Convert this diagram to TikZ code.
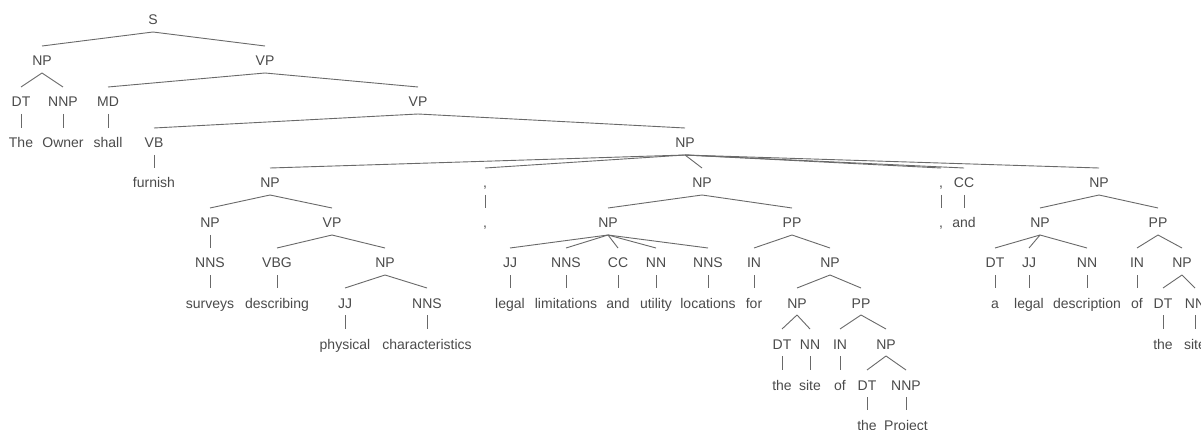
\documentclass[tikz,border=0pt]{standalone}
\usepackage{fontspec}
\setmainfont{Liberation Sans}
\usetikzlibrary{calc}
\definecolor{txt}{RGB}{75,75,75}
\definecolor{ln}{RGB}{105,105,105}
\tikzset{
  lab/.style={anchor=base,inner sep=0pt,text=txt,font=\fontsize{14}{16}\selectfont},
  br/.style={draw=ln,line width=0.9pt}
}
\newcommand\tedge[2]{\draw[br] ($(#1.base)+(0,7)$) -- ($(#2.base)+(0,-20)$);}
\begin{document}
\begin{tikzpicture}[x=1pt,y=-1pt]
\useasboundingbox[fill=white] (0,0) rectangle (1201,430);
\clip (0,0) rectangle (1201,430);
% L0
\node[lab] (S) at (153,25) {S};
% L1
\node[lab] (NP1) at (42,66) {NP};
\node[lab] (VP1) at (265,66) {VP};
% L2
\node[lab] (DT1) at (21,107) {DT};
\node[lab] (NNP1) at (63,107) {NNP};
\node[lab] (MD) at (108,107) {MD};
\node[lab] (VP2) at (418,107) {VP};
% L3
\node[lab] (wThe) at (21,148) {The};
\node[lab] (wOwner) at (63,148) {Owner};
\node[lab] (wshall) at (108,148) {shall};
\node[lab] (VB) at (154,148) {VB};
\node[lab] (NP2) at (685,148) {NP};
% L4
\node[lab] (wfurnish) at (154,188) {furnish};
\node[lab] (NPa) at (270,188) {NP};
\node[lab] (c1) at (485,188) {,};
\node[lab] (NPb) at (702,188) {NP};
\node[lab] (c2) at (941,188) {,};
\node[lab] (CC1) at (964,188) {CC};
\node[lab] (NPc) at (1099,188) {NP};
% L5
\node[lab] (NPa1) at (210,228) {NP};
\node[lab] (VPa) at (332,228) {VP};
\node[lab] (wc1) at (485,228) {,};
\node[lab] (NPb1) at (608,228) {NP};
\node[lab] (PPb) at (792,228) {PP};
\node[lab] (wc2) at (941,228) {,};
\node[lab] (wand1) at (964,228) {and};
\node[lab] (NPc1) at (1040,228) {NP};
\node[lab] (PPc) at (1158,228) {PP};
% L6
\node[lab] (NNSa) at (210,268) {NNS};
\node[lab] (VBG) at (277,268) {VBG};
\node[lab] (NPa2) at (385,268) {NP};
\node[lab] (JJb) at (510,268) {JJ};
\node[lab] (NNSb) at (566,268) {NNS};
\node[lab] (CCb) at (618,268) {CC};
\node[lab] (NNb) at (656,268) {NN};
\node[lab] (NNSb2) at (708,268) {NNS};
\node[lab] (INb) at (754,268) {IN};
\node[lab] (NPb2) at (830,268) {NP};
\node[lab] (DTc) at (995,268) {DT};
\node[lab] (JJc) at (1029,268) {JJ};
\node[lab] (NNc) at (1087,268) {NN};
\node[lab] (INc) at (1137,268) {IN};
\node[lab] (NPc2) at (1182,268) {NP};
% L7
\node[lab] (wsurveys) at (210,308) {surveys};
\node[lab] (wdescribing) at (277,308) {describing};
\node[lab] (JJa) at (345,308) {JJ};
\node[lab] (NNSa2) at (427,308) {NNS};
\node[lab] (wlegal) at (510,308) {legal};
\node[lab] (wlimitations) at (566,308) {limitations};
\node[lab] (wand2) at (618,308) {and};
\node[lab] (wutility) at (656,308) {utility};
\node[lab] (wlocations) at (708,308) {locations};
\node[lab] (wfor) at (754,308) {for};
\node[lab] (NPb3) at (797,308) {NP};
\node[lab] (PPb2) at (861,308) {PP};
\node[lab] (wa) at (995,308) {a};
\node[lab] (wlegal2) at (1029,308) {legal};
\node[lab] (wdescription) at (1087,308) {description};
\node[lab] (wof) at (1137,308) {of};
\node[lab] (DTc2) at (1163,308) {DT};
\node[lab] (NNc2) at (1195,308) {NN};
% L8
\node[lab] (wphysical) at (345,349) {physical};
\node[lab] (wcharacteristics) at (427,349) {characteristics};
\node[lab] (DTb) at (782,349) {DT};
\node[lab] (NNb2) at (810,349) {NN};
\node[lab] (INb2) at (840,349) {IN};
\node[lab] (NPb4) at (886,349) {NP};
\node[lab] (wthe1) at (1163,349) {the};
\node[lab] (wsite1) at (1195,349) {site};
% L9
\node[lab] (wthe2) at (782,390) {the};
\node[lab] (wsite2) at (810,390) {site};
\node[lab] (wof2) at (840,390) {of};
\node[lab] (DTb2) at (867,390) {DT};
\node[lab] (NNPb) at (906,390) {NNP};
% L10
\node[lab] (wthe3) at (867,430) {the};
\node[lab] (wProject) at (906,430) {Project};
% edges
\tedge{S}{NP1}\tedge{S}{VP1}
\tedge{NP1}{DT1}\tedge{NP1}{NNP1}
\tedge{VP1}{MD}\tedge{VP1}{VP2}
\tedge{DT1}{wThe}\tedge{NNP1}{wOwner}\tedge{MD}{wshall}
\tedge{VP2}{VB}\tedge{VP2}{NP2}
\tedge{VB}{wfurnish}
\tedge{NP2}{NPa}\tedge{NP2}{c1}\tedge{NP2}{NPb}\tedge{NP2}{c2}\tedge{NP2}{CC1}\tedge{NP2}{NPc}
\tedge{NPa}{NPa1}\tedge{NPa}{VPa}
\tedge{c1}{wc1}
\tedge{NPb}{NPb1}\tedge{NPb}{PPb}
\tedge{c2}{wc2}\tedge{CC1}{wand1}
\tedge{NPc}{NPc1}\tedge{NPc}{PPc}
\tedge{NPa1}{NNSa}
\tedge{VPa}{VBG}\tedge{VPa}{NPa2}
\tedge{NPb1}{JJb}\tedge{NPb1}{NNSb}\tedge{NPb1}{CCb}\tedge{NPb1}{NNb}\tedge{NPb1}{NNSb2}
\tedge{PPb}{INb}\tedge{PPb}{NPb2}
\tedge{NPc1}{DTc}\tedge{NPc1}{JJc}\tedge{NPc1}{NNc}
\tedge{PPc}{INc}\tedge{PPc}{NPc2}
\tedge{NNSa}{wsurveys}\tedge{VBG}{wdescribing}
\tedge{NPa2}{JJa}\tedge{NPa2}{NNSa2}
\tedge{JJb}{wlegal}\tedge{NNSb}{wlimitations}\tedge{CCb}{wand2}\tedge{NNb}{wutility}\tedge{NNSb2}{wlocations}
\tedge{INb}{wfor}
\tedge{NPb2}{NPb3}\tedge{NPb2}{PPb2}
\tedge{DTc}{wa}\tedge{JJc}{wlegal2}\tedge{NNc}{wdescription}
\tedge{INc}{wof}
\tedge{NPc2}{DTc2}\tedge{NPc2}{NNc2}
\tedge{JJa}{wphysical}\tedge{NNSa2}{wcharacteristics}
\tedge{NPb3}{DTb}\tedge{NPb3}{NNb2}
\tedge{PPb2}{INb2}\tedge{PPb2}{NPb4}
\tedge{DTc2}{wthe1}\tedge{NNc2}{wsite1}
\tedge{DTb}{wthe2}\tedge{NNb2}{wsite2}\tedge{INb2}{wof2}
\tedge{NPb4}{DTb2}\tedge{NPb4}{NNPb}
\tedge{DTb2}{wthe3}\tedge{NNPb}{wProject}
\end{tikzpicture}
\end{document}
